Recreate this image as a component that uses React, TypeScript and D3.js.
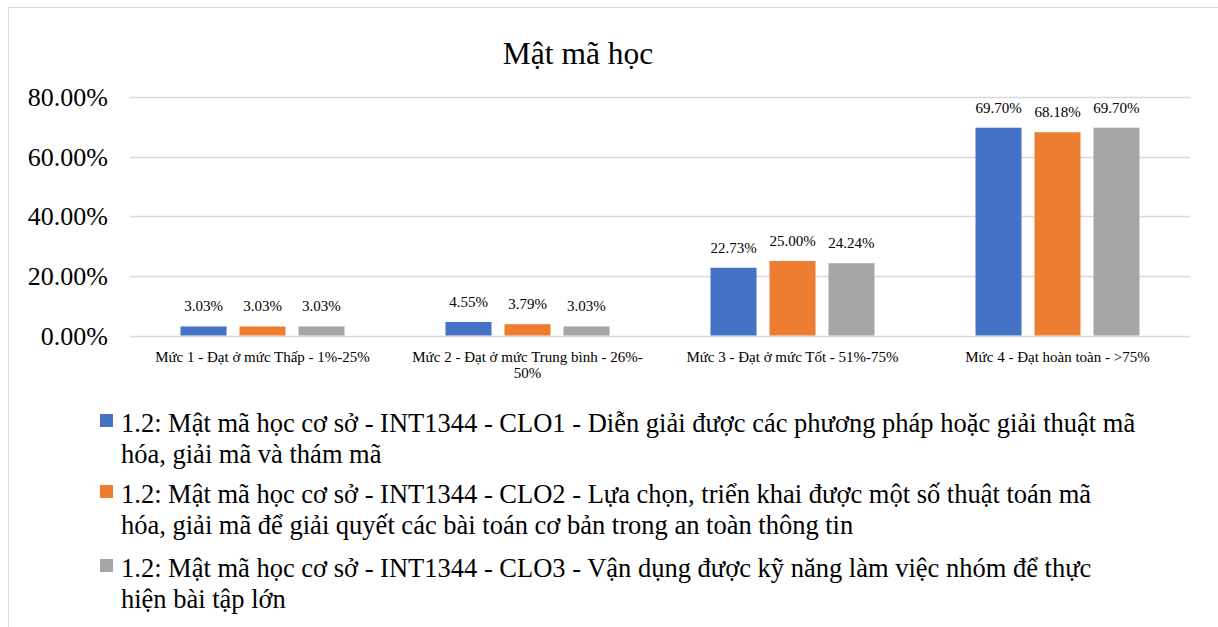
import React from "react";
import * as d3 from "d3";

const title = "Mật mã học";
const categories = [
  "Mức 1 - Đạt ở mức Thấp - 1%-25%",
  "Mức 2 - Đạt ở mức Trung bình - 26%-\n50%",
  "Mức 3 - Đạt ở mức Tốt - 51%-75%",
  "Mức 4 - Đạt hoàn toàn - >75%",
];
const seriesNames = [
  "1.2: Mật mã học cơ sở - INT1344 - CLO1 - Diễn giải được các phương pháp hoặc giải thuật mã\nhóa, giải mã và thám mã",
  "1.2: Mật mã học cơ sở - INT1344 - CLO2 - Lựa chọn, triển khai được một số thuật toán mã\nhóa, giải mã để giải quyết các bài toán cơ bản trong an toàn thông tin",
  "1.2: Mật mã học cơ sở - INT1344 - CLO3 - Vận dụng được kỹ năng làm việc nhóm để thực\nhiện bài tập lớn",
];
const clo1 = [0.0303, 0.0455, 0.2273, 0.697];
const clo2 = [0.0303, 0.0379, 0.25, 0.6818];
const clo3 = [0.0303, 0.0303, 0.2424, 0.697];
const yTicks = [0, 0.2, 0.4, 0.6, 0.8];
const colors = ["#4472C4", "#ED7D31", "#A5A5A5"];

const W = 1218;
const H = 627;
const FONT = '"Liberation Serif", "Times New Roman", serif';
const ts = (size: number): React.CSSProperties => ({ fontFamily: FONT, fontSize: `${size}px` });

export default function App() {
  const series = [clo1, clo2, clo3];
  const x0 = d3.scaleBand<number>().domain(d3.range(categories.length)).range([130, 1190]);
  const x1 = d3
    .scaleBand<number>()
    .domain(d3.range(series.length))
    .range([0, 164])
    .paddingInner(0.22);
  const groupOffset = (x0.bandwidth() - 164) / 2;
  const y = d3.scaleLinear().domain([0, 0.8]).range([335.5, 97]);
  const fmt = (v: number) => (v * 100).toFixed(2) + "%";
  const legendBase = [432, 503, 577];

  return (
    <svg width={W} height={H} style={{ position: "absolute", left: 0, top: 0, background: "#fff" }}>
      <rect x={8.5} y={7.5} width={1240} height={640} fill="#fff" stroke="#D9D9D9" strokeWidth={1} />
      <text x={578} y={64} textAnchor="middle" style={ts(31.5)} fill="#000">
        {title}
      </text>
      {yTicks.map((t) => (
        <g key={t}>
          <line x1={130} x2={1190} y1={Math.round(y(t)) + 0.5} y2={Math.round(y(t)) + 0.5} stroke="#D9D9D9" strokeWidth={1.5} />
          <text x={108} y={y(t) + 9} textAnchor="end" style={ts(26)} fill="#000">
            {fmt(t)}
          </text>
        </g>
      ))}
      {categories.map((c, ci) => (
        <g key={ci}>
          {series.map((s, si) => {
            const bx = (x0(ci) as number) + groupOffset + (x1(si) as number);
            const by = y(s[ci]);
            return (
              <g key={si}>
                <rect x={bx} y={by} width={x1.bandwidth()} height={y(0) - by} fill={colors[si]} />
                <text x={bx + x1.bandwidth() / 2} y={by - 15} textAnchor="middle" style={ts(15)} fill="#000">
                  {fmt(s[ci])}
                </text>
              </g>
            );
          })}
          {c.split("\n").map((line, li) => (
            <text
              key={li}
              x={(x0(ci) as number) + x0.bandwidth() / 2}
              y={362 + li * 16}
              textAnchor="middle"
              style={ts(15)}
              fill="#000"
            >
              {line}
            </text>
          ))}
        </g>
      ))}
      {seriesNames.map((name, si) => (
        <g key={si}>
          <rect x={100} y={legendBase[si] - 18} width={13} height={13} fill={colors[si]} />
          {name.split("\n").map((line, li) => (
            <text key={li} x={121} y={legendBase[si] + li * 31} style={ts(26.5)} fill="#000">
              {line}
            </text>
          ))}
        </g>
      ))}
    </svg>
  );
}
